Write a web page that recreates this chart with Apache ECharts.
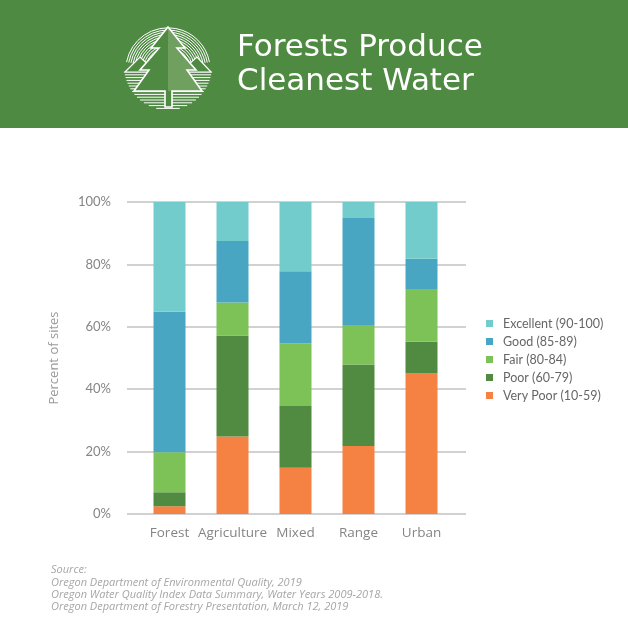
<!DOCTYPE html>
<html>
<head>
<meta charset="utf-8">
<script src="https://cdn.jsdelivr.net/npm/echarts@6/dist/echarts.min.js"></script>
<style>
  html, body { margin: 0; padding: 0; background: #fff; }
  #main { width: 628px; height: 628px; }
</style>
</head>
<body>
<div id="main"></div>
<script>
// categories and values (percent of sites)
var categories = ["Forest", "Agriculture", "Mixed", "Range", "Urban"];
var veryPoor  = [2.5, 24.8, 14.8, 21.8, 45.0];
var poor      = [4.5, 32.4, 19.8, 26.1, 10.2];
var fair      = [12.8, 10.6, 20.1, 12.7, 16.9];
var good      = [45.0, 19.7, 23.1, 34.3, 9.7];
var excellent = [35.2, 12.5, 22.2, 5.1, 18.2];

var names = ["Very Poor (10-59)", "Poor (60-79)", "Fair (80-84)", "Good (85-89)", "Excellent (90-100)"];
var colors = ["#F58142", "#518A41", "#7DC256", "#48A6C2", "#72CCCB"];
var seriesValues = [veryPoor, poor, fair, good, excellent];

var bg = "#4F8A42";
var font = "Lato";

// logo stripes (decoration only)
var logo = [];
var cx = 168, cy = 66, R = 44;
for (var r = 18; r <= R; r += 2.2) {
    logo.push({type: "arc", shape: {cx: cx, cy: cy + 4, r: r, startAngle: Math.PI * 1.06, endAngle: Math.PI * 1.94},
        style: {stroke: "#fff", lineWidth: 1, fill: null}});
}
for (var y = 72; y < cy + R; y += 2.8) {
    var hw = Math.sqrt(R * R - (y - cy) * (y - cy));
    logo.push({type: "line", shape: {x1: cx - hw, y1: y, x2: cx + hw, y2: y}, style: {stroke: "#fff", lineWidth: 1}});
}
// little mountains
logo.push({type: "polygon", shape: {points: [[125, 72], [140, 57], [156, 72]]}, style: {fill: bg, stroke: "#fff", lineWidth: 1.2}});
logo.push({type: "polygon", shape: {points: [[180, 72], [197, 57], [211, 72]]}, style: {fill: bg, stroke: "#fff", lineWidth: 1.2}});
var tree = [[168, 27], [151, 48], [159, 48], [140, 70], [149, 70], [134, 91], [165, 91], [165, 107], [172, 107], [172, 91],
    [202, 91], [187, 70], [196, 70], [177, 48], [185, 48]];
logo.push({type: "polygon", shape: {points: tree}, style: {fill: bg, stroke: null}});
logo.push({type: "polygon", shape: {points: [[168, 27], [185, 48], [177, 48], [196, 70], [187, 70], [202, 91], [168, 91]]},
    style: {fill: "#70A060"}});
logo.push({type: "polygon", shape: {points: tree}, style: {fill: null, stroke: "#fff", lineWidth: 1.6}});

var myChart = echarts.init(document.getElementById("main"));

var series = [];
for (var i = 0; i < names.length; i++) {
    series.push({
        name: names[i],
        type: "bar",
        stack: "total",
        xAxisIndex: 1,
        yAxisIndex: 1,
        barWidth: 32,
        itemStyle: {color: colors[i]},
        data: seriesValues[i]
    });
}
// empty series so the wide grid draws the grid lines
series.push({type: "bar", xAxisIndex: 0, yAxisIndex: 0, data: [], silent: true});

var option = {
    animation: false,
    backgroundColor: "#fff",
    textStyle: {fontFamily: font},
    graphic: [
        {type: "rect", shape: {x: 0, y: 0, width: 628, height: 128}, style: {fill: bg}, z: 0},
        {type: "group", children: logo},
        {type: "text", left: 237, top: 32, style: {text: "Forests Produce", fill: "#fff", font: "31px 'DejaVu Sans'"}},
        {type: "text", left: 237, top: 66, style: {text: "Cleanest Water", fill: "#fff", font: "31px 'DejaVu Sans'"}},
        {type: "text", left: 51, top: 564, style: {
            text: "Source:\nOregon Department of Environmental Quality, 2019\nOregon Water Quality Index Data Summary, Water Years 2009-2018.\nOregon Department of Forestry Presentation, March 12, 2019",
            fill: "#A6A6A6", font: "italic 11px 'Open Sans'", lineHeight: 12.3}}
    ],
    legend: {
        orient: "vertical",
        left: 481,
        top: 312,
        icon: "rect",
        itemWidth: 7,
        itemHeight: 7,
        itemGap: 5,
        data: names.slice().reverse(),
        textStyle: {color: "#666", fontSize: 12.5, fontFamily: font, padding: [0, 0, 0, 5]}
    },
    grid: [
        {left: 127, right: 162, top: 202, bottom: 114},
        {left: 138, right: 175, top: 202, bottom: 114}
    ],
    xAxis: [
        {gridIndex: 0, type: "category", data: categories, show: false},
        {gridIndex: 1, type: "category", data: categories,
            axisLine: {show: false}, axisTick: {show: false},
            axisLabel: {color: "#858585", fontSize: 13.5, fontFamily: "Open Sans", margin: 12, interval: 0}}
    ],
    yAxis: [
        {gridIndex: 0, type: "value", min: 0, max: 100, interval: 20,
            name: "Percent of sites", nameLocation: "middle", nameGap: 66,
            nameTextStyle: {color: "#999", fontSize: 13, fontFamily: "Open Sans"},
            axisLine: {show: false}, axisTick: {show: false},
            axisLabel: {color: "#858585", fontSize: 13, margin: 16, formatter: "{value}%"},
            splitLine: {lineStyle: {color: "#C2C2C2", width: 1.5}}},
        {gridIndex: 1, type: "value", min: 0, max: 100, interval: 20, show: false, splitLine: {show: false}}
    ],
    series: series
};
myChart.setOption(option);
</script>
</body>
</html>
